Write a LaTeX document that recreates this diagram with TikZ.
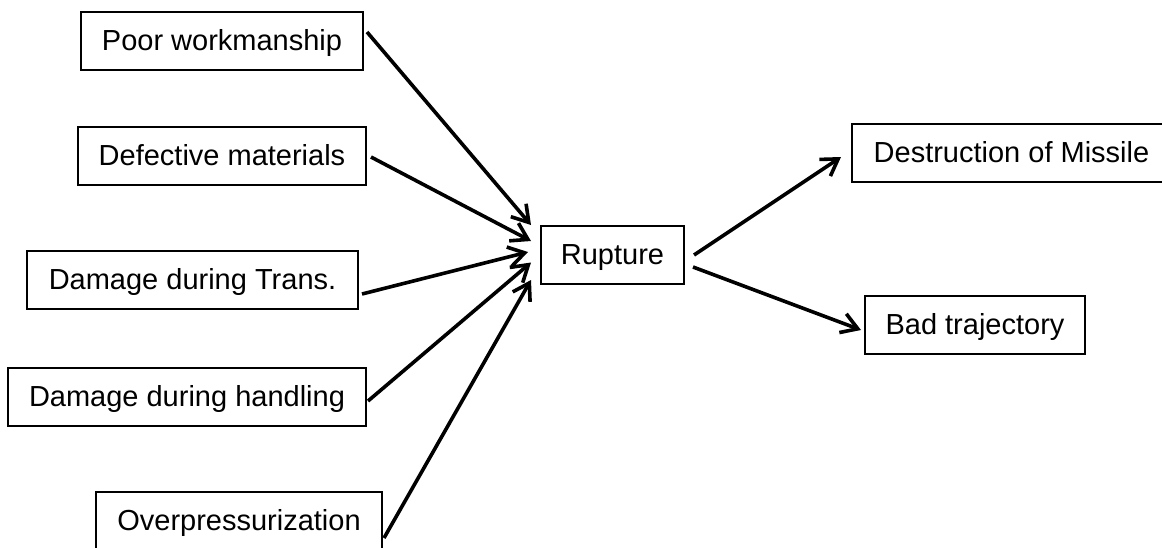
\documentclass[tikz,border=0pt]{standalone}
\usepackage{fontspec}
\setmainfont{Liberation Sans}
\usetikzlibrary{arrows.meta}
\begin{document}
\begin{tikzpicture}[x=1pt,y=-1pt,
  box/.style={draw=black,line width=2pt,minimum height=58pt,inner sep=0pt,text height=21pt,text depth=2pt,font=\fontsize{29}{33}\selectfont},
  arr/.style={line width=3.6pt,-{Straight Barb[length=16pt,width=20pt]}}]
\useasboundingbox (0,0) rectangle (1162,547);
\node[box,minimum width=282pt] (pw) at (222,41) {Poor workmanship};
\node[box,minimum width=288pt] (dm) at (222,156) {Defective materials};
\node[box,minimum width=331pt] (dt) at (192.5,280) {Damage during Trans.};
\node[box,minimum width=358pt] (dh) at (187,397) {Damage during handling};
\node[box,minimum width=286pt] (op) at (239,521) {Overpressurization};
\node[box,minimum width=143pt] (ru) at (612.5,254.5) {Rupture};
\node[box,minimum width=319pt] (de) at (1011.5,153) {Destruction of Missile};
\node[box,minimum width=220pt] (bt) at (975,325) {Bad trajectory};
\draw[arr] ([shift={(3,-9)}]pw.east) -- ([shift={(-9,-29.5)}]ru.west);
\draw[arr] ([shift={(4,1)}]dm.east) -- ([shift={(-9,-13.5)}]ru.west);
\draw[arr] ([shift={(3,14)}]dt.east) -- ([shift={(-12,-2.5)}]ru.west);
\draw[arr] ([shift={(1,4)}]dh.east) -- ([shift={(-9,8)}]ru.west);
\draw[arr] ([shift={(1,17)}]op.east) -- ([shift={(-9,25.5)}]ru.west);
\draw[arr] ([shift={(9,0.5)}]ru.east) -- ([shift={(-10,4)}]de.west);
\draw[arr] ([shift={(8,12.5)}]ru.east) -- ([shift={(-3,5)}]bt.west);
\end{tikzpicture}
\end{document}
